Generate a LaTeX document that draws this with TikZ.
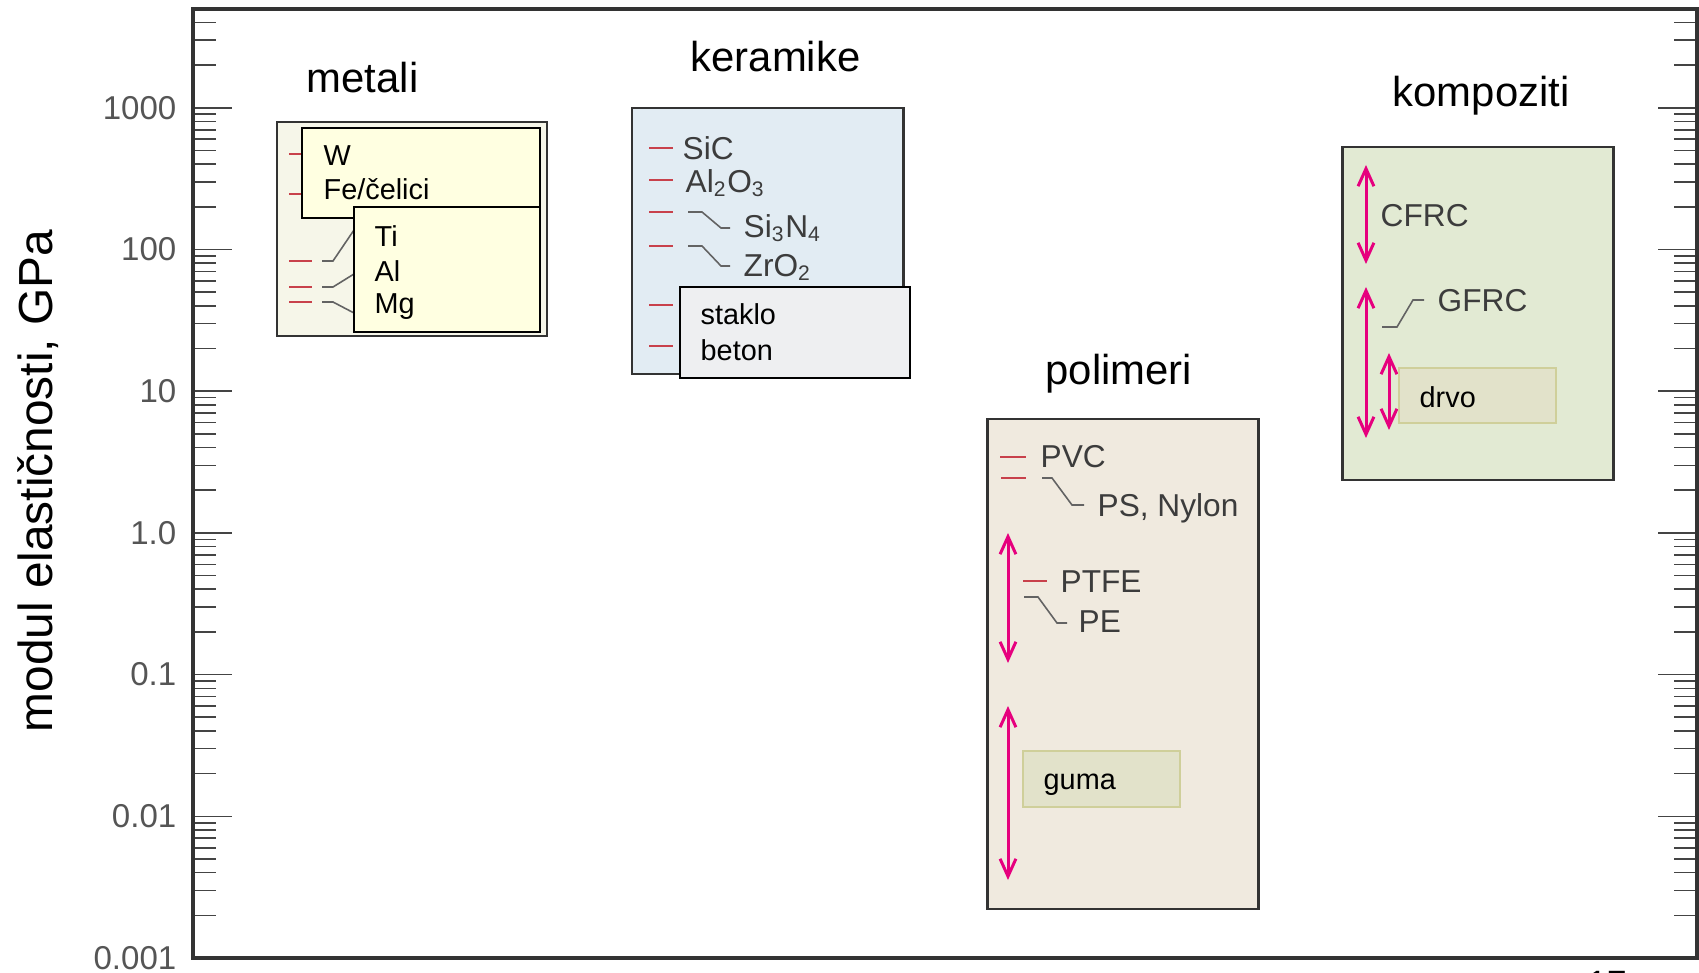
\documentclass[tikz,border=0pt]{standalone}
\usepackage{fontspec}
\setmainfont{Liberation Sans}
\usetikzlibrary{arrows.meta}

\definecolor{framegray}{HTML}{333333}
\definecolor{tickgray}{HTML}{444444}
\definecolor{labgray}{HTML}{3C3C3C}
\definecolor{numgray}{HTML}{555555}
\definecolor{redmark}{HTML}{C8414B}
\definecolor{pinkarr}{HTML}{E6007E}
\definecolor{metfill}{HTML}{F6F6E9}
\definecolor{yelfill}{HTML}{FFFFE1}
\definecolor{cerfill}{HTML}{E2ECF3}
\definecolor{glsfill}{HTML}{EEEFF1}
\definecolor{polfill}{HTML}{F0EADF}
\definecolor{cmpfill}{HTML}{E2EAD3}
\definecolor{natfill}{HTML}{E2E2CA}
\definecolor{natdraw}{HTML}{CFCF9A}

\newcommand\rtick[3]{
    \draw[redline] (#1,#3) -- (#2,#3);
}

\tikzset{
    axframe/.style={draw=framegray, line width=1pt},
    axtick/.style={draw=tickgray, line width=0.45pt},
    numlab/.style={anchor=east, inner sep=0pt, text=numgray, font=\fontsize{9.4}{11}\selectfont},
    grptitle/.style={anchor=base west, inner sep=0pt, font=\fontsize{11.9}{14}\selectfont},
    grpbox/.style={draw=framegray, line width=0.85pt},
    inbox/.style={draw=black, line width=0.55pt},
    natbox/.style={draw=natdraw, fill=natfill, line width=0.6pt},
    blab/.style={anchor=base west, inner sep=0pt, font=\fontsize{8.2}{10}\selectfont},
    glab/.style={anchor=base west, inner sep=0pt, text=labgray, font=\fontsize{9}{11}\selectfont},
    redline/.style={draw=redmark, line width=0.5pt},
    leader/.style={draw=labgray!80, line width=0.45pt},
    pinkrange/.style={draw=pinkarr, line width=0.85pt, {Straight Barb[length=5pt,width=4.5pt]}-{Straight Barb[length=5pt,width=4.5pt]}}
}

\begin{document}
\begin{tikzpicture}[x=0.01cm, y=-0.01cm]
    \useasboundingbox (0,0) rectangle (1699,973);

    % axes
    \foreach \d in {-3,...,2}{
        \foreach \m in {2,...,9}{
            \pgfmathsetmacro\yy{958-141.7*(\d+3+log10(\m))}
            \draw[axtick] (193,\yy) -- (216,\yy);
            \draw[axtick] (1697,\yy) -- (1674,\yy);
        }
    }
    \foreach \m in {2,3,4}{
        \pgfmathsetmacro\yy{958-141.7*(6+log10(\m))}
        \draw[axtick] (193,\yy) -- (216,\yy);
        \draw[axtick] (1697,\yy) -- (1674,\yy);
    }
    \foreach \d/\lab/\nm in {1/0.01/a, 2/0.1/b, 3/1.0/c, 4/10/d, 5/100/e, 6/1000/f}{
        \pgfmathsetmacro\yy{958-141.7*\d}
        \draw[axtick] (193,\yy) -- (232,\yy);
        \draw[axtick] (1697,\yy) -- (1658,\yy);
        \node[numlab] (num\nm) at (177,\yy) {\lab};
    }
    \node[numlab] (numz) at (177,958) {0.001};
    \draw[axframe] (193,9) rectangle (1697,958);

    \node[rotate=90, anchor=base west, inner sep=0pt, font=\fontsize{13.6}{16}\selectfont] (ylab) at (52,733) {modul elastičnosti, GPa};

    % metali
    \node[grptitle] (metali) at (306,93) {metali};
    \draw[grpbox, fill=metfill] (277,122) rectangle (547,336);
    \rtick{289}{303}{154}
    \rtick{289}{303}{194}
    \rtick{289}{312}{261}
    \rtick{289}{312}{287}
    \rtick{289}{312}{302}
    \draw[leader] (322,261) -- (333,261) -- (354,230);
    \draw[leader] (322,287) -- (333,287) -- (354,274);
    \draw[leader] (322,302) -- (333,302) -- (354,313);
    \draw[inbox, fill=yelfill] (302,128) rectangle (540,218);
    \draw[inbox, fill=yelfill] (354,207) rectangle (540,332);
    \node[blab] (w) at (323,166) {W};
    \node[blab] (fe) at (323,200) {Fe/čelici};
    \node[blab] (ti) at (374,247) {Ti};
    \node[blab] (al) at (374,282) {Al};
    \node[blab] (mg) at (374,314) {Mg};

    % keramike
    \node[grptitle] (keramike) at (690,72) {keramike};
    \draw[grpbox, fill=cerfill] (632,108) rectangle (903,374);
    \rtick{649}{673}{148}
    \rtick{649}{673}{180}
    \rtick{649}{673}{212}
    \rtick{649}{673}{246}
    \rtick{649}{673}{305}
    \rtick{649}{673}{346}
    \node[glab] (sic) at (682,160) {SiC};
    \node[glab] (alo) at (685,193) {Al\textsubscript{2}O\textsubscript{3}};
    \draw[leader] (688,212) -- (702,212) -- (721,228) -- (730,228);
    \node[glab] (sin) at (743,238) {Si\textsubscript{3}N\textsubscript{4}};
    \draw[leader] (688,246) -- (702,246) -- (721,266) -- (730,266);
    \node[glab] (zro) at (743,277) {ZrO\textsubscript{2}};
    \draw[inbox, fill=glsfill] (680,287) rectangle (910,378);
    \node[blab] (staklo) at (700,325) {staklo};
    \node[blab] (beton) at (700,361) {beton};

    % polimeri
    \node[grptitle] (polimeri) at (1045,384) {polimeri};
    \draw[grpbox, fill=polfill] (987,419) rectangle (1258,909);
    \rtick{1000}{1026}{457}
    \rtick{1001}{1026}{478}
    \node[glab] (pvc) at (1040,468) {PVC};
    \draw[leader] (1042,478) -- (1052,478) -- (1072,505) -- (1084,505);
    \node[glab] (ps) at (1097,516) {PS, Nylon};
    \draw[pinkrange] (1008,533) -- (1008,663);
    \rtick{1023}{1047}{581}
    \node[glab] (ptfe) at (1060,592) {PTFE};
    \draw[leader] (1024,597) -- (1038,597) -- (1057,623) -- (1067,623);
    \node[glab] (pe) at (1078,632) {PE};
    \draw[pinkrange] (1008,706) -- (1008,880);
    \draw[natbox] (1023,751) rectangle (1180,807);
    \node[blab] (guma) at (1043,789) {guma};

    % kompoziti
    \node[grptitle] (kompoziti) at (1392,107) {kompoziti};
    \draw[grpbox, fill=cmpfill] (1342,147) rectangle (1613,480);
    \draw[pinkrange] (1366,165) -- (1366,264);
    \node[glab] (cfrc) at (1380,227) {CFRC};
    \draw[pinkrange] (1366,287) -- (1366,438);
    \draw[leader] (1382,327) -- (1397,327) -- (1413,300) -- (1424,300);
    \node[glab] (gfrc) at (1437,312) {GFRC};
    \draw[pinkrange] (1389,353) -- (1389,430);
    \draw[natbox] (1399,368) rectangle (1556,423);
    \node[blab] (drvo) at (1419,407) {drvo};

    \node[anchor=base, inner sep=0pt, font=\fontsize{10}{12}\selectfont] (pnum) at (1607,995) {17};
\end{tikzpicture}
\end{document}
